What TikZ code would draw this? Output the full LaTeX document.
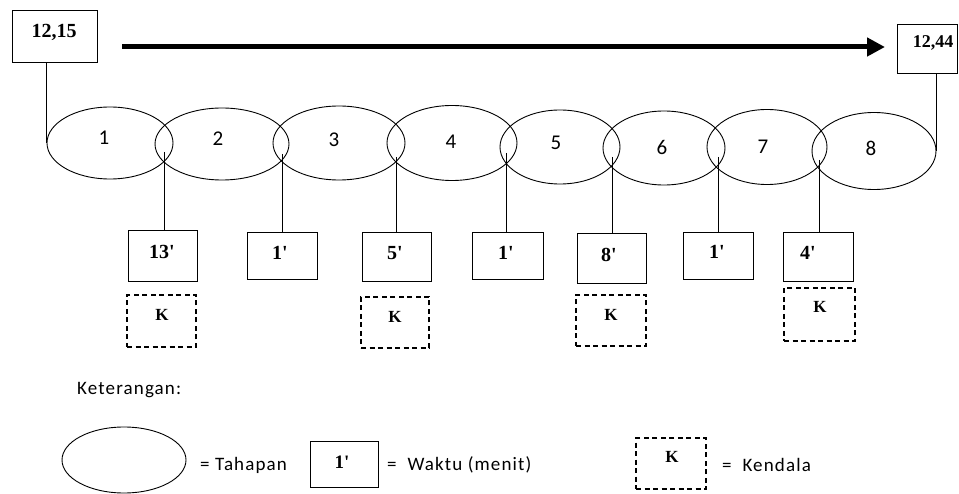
\documentclass[tikz,border=0pt]{standalone}
\usepackage{fontspec}
\setmainfont{Liberation Serif}[Ligatures=TeXOff]
\newfontfamily\calfont[LetterSpace=6]{Carlito}
\newfontfamily\numfont{Carlito}
\usetikzlibrary{shapes.geometric,arrows.meta}
\begin{document}
\begin{tikzpicture}[x=1pt,y=-1pt,
  stage/.style={draw, ellipse, line width=0.9pt, inner sep=0pt},
  tbox/.style={draw, line width=0.9pt, inner sep=0pt},
  kbox/.style={draw, line width=1.3pt, dash pattern=on 5pt off 3.5pt, inner sep=0pt},
  conn/.style={line width=0.9pt},
  ttext/.style={font=\fontsize{20}{20}\selectfont\bfseries, inner sep=0pt},
  ktext/.style={font=\fontsize{17}{17}\selectfont\bfseries, inner sep=0pt},
  num/.style={font=\numfont\fontsize{21}{21}\selectfont, inner sep=0pt},
  leg/.style={font=\calfont\fontsize{19}{19}\selectfont, inner sep=0pt, anchor=base west},
]
\useasboundingbox (0,0) rectangle (959,494);

% start / finish boxes
\node[tbox, minimum width=85, minimum height=52] (s) at (54.5,36) {};
\node[ttext] (st) at (54,32) {12,15};
\node[tbox, minimum width=60, minimum height=49] (f) at (927,48.5) {};
\node[ttext, font=\fontsize{18}{18}\selectfont\bfseries] (ft) at (933,43) {12,44};

% time arrow
\coordinate (a0) at (122,47);
\coordinate (a1) at (885,47);
\draw[line width=5pt, -{Triangle[length=18pt,width=18pt]}] (a0) -- (a1);

% stages
\node[stage, minimum width=126, minimum height=72] (e1) at (110,143) {};
\node[stage, minimum width=134, minimum height=72] (e2) at (222,144) {};
\node[stage, minimum width=132, minimum height=74] (e3) at (339,143) {};
\node[stage, minimum width=130, minimum height=75] (e4) at (452,143) {};
\node[stage, minimum width=120, minimum height=74] (e5) at (560,147) {};
\node[stage, minimum width=122, minimum height=74] (e6) at (664,148) {};
\node[stage, minimum width=120, minimum height=75] (e7) at (767,147) {};
\node[stage, minimum width=124, minimum height=77] (e8) at (874,151) {};

\node[num] (n1) at (104,138) {1};
\node[num] (n2) at (218,139) {2};
\node[num] (n3) at (334,140) {3};
\node[num] (n4) at (451,142) {4};
\node[num] (n5) at (556,143) {5};
\node[num] (n6) at (662,147) {6};
\node[num] (n7) at (763,147) {7};
\node[num] (n8) at (871,148) {8};

\draw[conn] (e1.west |- s.south) -- (e1.west);
\draw[conn] (e8.east |- f.south) -- (e8.east);

% time boxes
\node[tbox, minimum width=69, minimum height=51] (t1) at (162.5,255.5) {};
\node[tbox, minimum width=70, minimum height=47] (t2) at (282,255.5) {};
\node[tbox, minimum width=69, minimum height=49] (t3) at (396.5,256.5) {};
\node[tbox, minimum width=71, minimum height=47] (t4) at (507.5,255.5) {};
\node[tbox, minimum width=69, minimum height=50] (t5) at (611.5,258) {};
\node[tbox, minimum width=70, minimum height=47] (t6) at (718,255.5) {};
\node[tbox, minimum width=70, minimum height=49] (t7) at (818,256.5) {};

\node[ttext] (w1) at (162,252) {13'};
\node[ttext] (w2) at (280,253) {1'};
\node[ttext] (w3) at (395,253) {5'};
\node[ttext] (w4) at (506,253) {1'};
\node[ttext] (w5) at (609,255) {8'};
\node[ttext] (w6) at (717,252) {1'};
\node[ttext] (w7) at (808,253) {4'};

\coordinate (c1) at (164,152);
\coordinate (c2) at (282,154);
\coordinate (c3) at (396,157);
\coordinate (c4) at (506,153);
\coordinate (c5) at (612,157);
\coordinate (c6) at (718,157);
\coordinate (c7) at (819,160);
\foreach \i in {1,...,7} {\draw[conn] (c\i) -- (c\i |- t\i.north);}

% constraint boxes
\node[kbox, minimum width=69, minimum height=52] (k1) at (161.5,321) {};
\node[kbox, minimum width=68, minimum height=51] (k2) at (395,322.5) {};
\node[kbox, minimum width=70, minimum height=51] (k3) at (611,320.5) {};
\node[kbox, minimum width=71, minimum height=53] (k4) at (819.5,314.5) {};
\node[ktext] (kt1) at (162,315) {K};
\node[ktext] (kt2) at (395,317) {K};
\node[ktext] (kt3) at (611,315) {K};
\node[ktext] (kt4) at (820,307) {K};

% legend
\node[leg] (ket) at (77,395) {Keterangan:};
\node[stage, minimum width=124, minimum height=66] (le) at (124,460) {};
\node[leg] (lt1) at (200,470) {= Tahapan};
\node[tbox, minimum width=68, minimum height=46] (lb) at (344,464) {};
\node[ttext, font=\fontsize{19}{19}\selectfont\bfseries] (lbt) at (342,462) {1'};
\node[leg] (lt2) at (387,470) {=\ \ Waktu (menit)};
\node[kbox, minimum width=70, minimum height=51] (lk) at (671,463.5) {};
\node[ktext] (lkt) at (672,457) {K};
\node[leg] (lt3) at (722,471) {=\ \ Kendala};
\end{tikzpicture}
\end{document}
